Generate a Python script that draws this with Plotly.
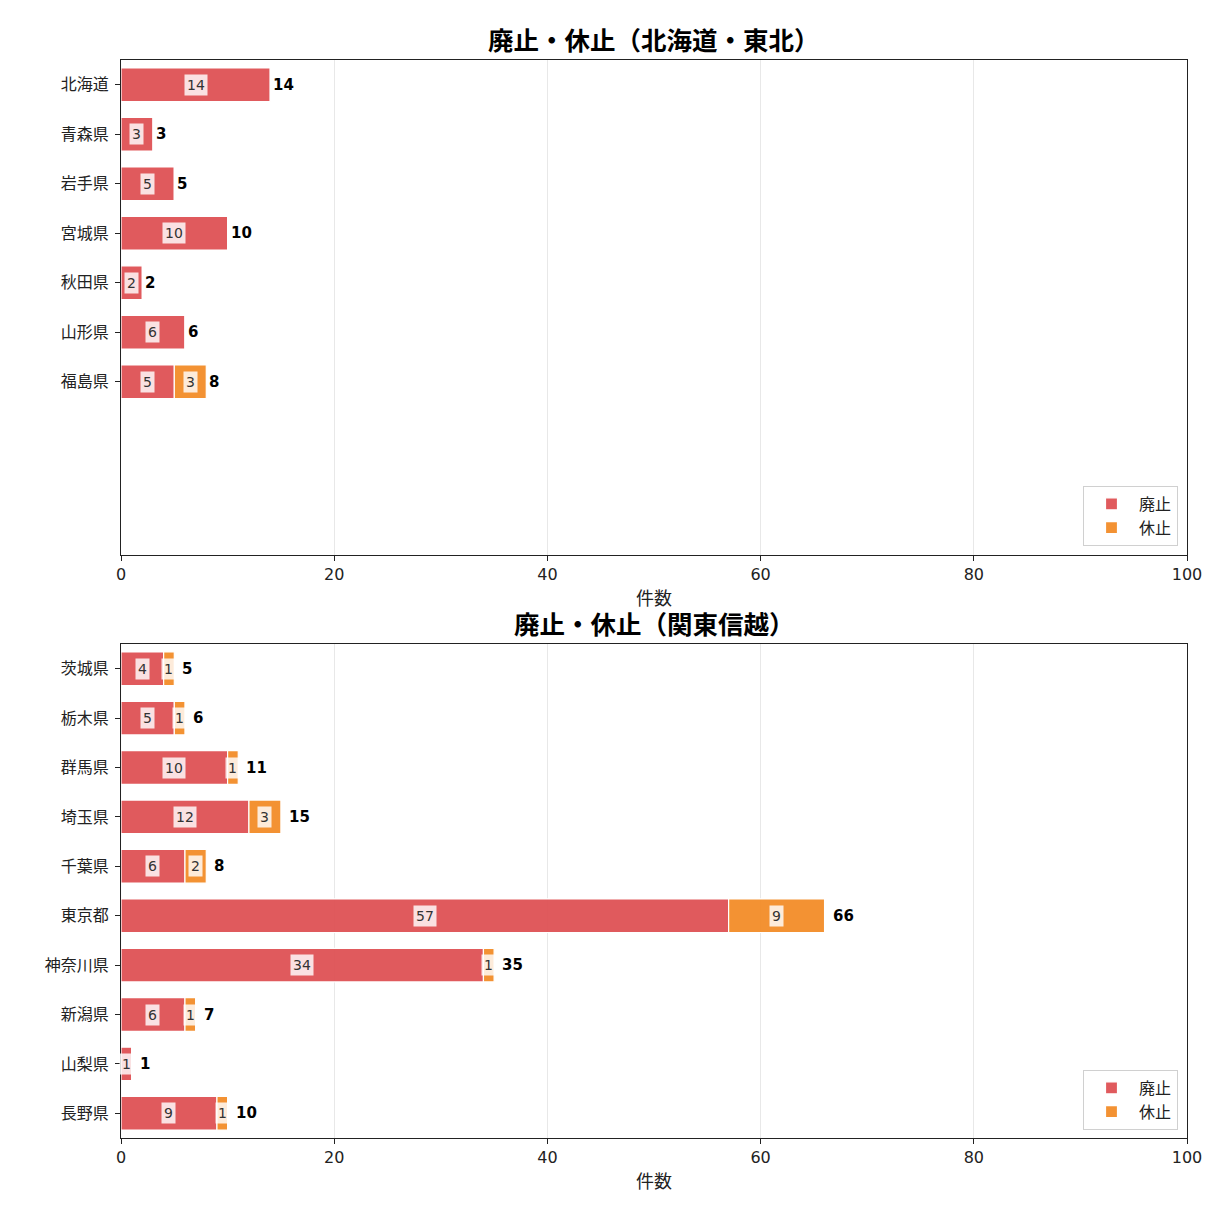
import plotly.graph_objects as go

# ---- data ----
top_title = "廃止・休止（北海道・東北）"
top_cats = ["北海道", "青森県", "岩手県", "宮城県", "秋田県", "山形県", "福島県"]
top_haishi = [14, 3, 5, 10, 2, 6, 5]
top_kyushi = [0, 0, 0, 0, 0, 0, 3]

bot_title = "廃止・休止（関東信越）"
bot_cats = ["茨城県", "栃木県", "群馬県", "埼玉県", "千葉県", "東京都", "神奈川県", "新潟県", "山梨県", "長野県"]
bot_haishi = [4, 5, 10, 12, 6, 57, 34, 6, 1, 9]
bot_kyushi = [1, 1, 1, 3, 2, 9, 1, 1, 0, 1]

series_names = ["廃止", "休止"]
x_ticks = [0, 20, 40, 60, 80, 100]
x_label = "件数"

# ---- style ----
FONT = "DejaVu Sans, Noto Sans CJK JP"
RED = "rgba(222,78,81,0.93)"
ORANGE = "rgba(242,138,36,0.93)"
W = 1211
XD = [121 / W, 1187 / W]
TOP_D = [1 - 555 / W, 1 - 60 / W]
BOT_D = [1 - 1138 / W, 1 - 644 / W]

fig = go.Figure()
annotations = []


def add_panel(cats, a, b, xa, ya, legend, shift):
    xref = "x" if xa == "x" else "x2"
    yref = "y" if ya == "y" else "y2"
    for name, vals, col, base in [
        (series_names[0], a, RED, [0] * len(a)),
        (series_names[1], b, ORANGE, a),
    ]:
        fig.add_trace(go.Bar(
            y=cats, x=vals, base=base, orientation="h", name=name,
            marker=dict(color=col, line=dict(color="white", width=1.2)),
            width=0.68, xaxis=xa, yaxis=ya, legend=legend, showlegend=True,
        ))
        for c, v, b0 in zip(cats, vals, base):
            if v > 0:
                annotations.append(dict(
                    x=b0 + v / 2, y=c, xref=xref, yref=yref, text=str(v),
                    showarrow=False, font=dict(size=14, color="#333", family=FONT),
                    bgcolor="rgba(255,255,255,0.82)", borderpad=2,
                    xanchor="center", yanchor="middle",
                ))
    for c, v1, v2 in zip(cats, a, b):
        annotations.append(dict(
            x=v1 + v2, y=c, xref=xref, yref=yref, text=f"<b>{v1 + v2}</b>",
            showarrow=False, font=dict(size=15, color="black", family=FONT),
            xanchor="left", yanchor="middle", xshift=shift,
        ))


add_panel(top_cats, top_haishi, top_kyushi, "x", "y", "legend", 1)
add_panel(bot_cats, bot_haishi, bot_kyushi, "x2", "y2", "legend2", 6)

axis_common = dict(
    showline=True, linecolor="#222", linewidth=1.2, mirror=True,
    ticks="outside", ticklen=5, tickcolor="#222", automargin=False,
    tickfont=dict(size=16, family=FONT, color="#222"),
)
xaxis_cfg = dict(axis_common, range=[0, 100], tickvals=x_ticks, showgrid=True,
                 gridcolor="#e8e8e8", gridwidth=1, zeroline=False, domain=XD,
                 ticklabelstandoff=0)

legend_common = dict(xanchor="right", yanchor="bottom", bgcolor="white",
                     bordercolor="#d0d0d0", borderwidth=1, itemwidth=45,
                     font=dict(size=16, family=FONT, color="#222"),
                     traceorder="normal")

fig.update_layout(
    width=1211, height=1211,
    margin=dict(l=0, r=0, t=0, b=0),
    paper_bgcolor="white", plot_bgcolor="white",
    barmode="overlay",
    font=dict(family=FONT),
    xaxis=dict(xaxis_cfg, anchor="y"),
    yaxis=dict(axis_common, type="category", categoryarray=top_cats,
               range=[9.5, -0.5], domain=TOP_D, anchor="x", showgrid=False,
               ticklabelstandoff=3),
    xaxis2=dict(xaxis_cfg, anchor="y2"),
    yaxis2=dict(axis_common, type="category", categoryarray=bot_cats,
                range=[9.5, -0.5], domain=BOT_D, anchor="x2", showgrid=False,
                ticklabelstandoff=3),
    legend=dict(legend_common, x=1178 / W, y=1 - 546 / W),
    legend2=dict(legend_common, x=1178 / W, y=1 - 1130 / W),
)

for title, ypix in [(top_title, 41), (bot_title, 625)]:
    annotations.append(dict(
        x=(XD[0] + XD[1]) / 2, y=1 - ypix / W, xref="paper", yref="paper",
        text=f"<b>{title}</b>", showarrow=False,
        font=dict(size=25.5, family=FONT, color="black"),
        xanchor="center", yanchor="middle",
    ))
for ypix in [598, 1181]:
    annotations.append(dict(
        x=(XD[0] + XD[1]) / 2, y=1 - ypix / W, xref="paper", yref="paper",
        text=x_label, showarrow=False,
        font=dict(size=18, family=FONT, color="#222"),
        xanchor="center", yanchor="middle",
    ))

fig.update_layout(annotations=annotations)
fig.write_html("out.html")
